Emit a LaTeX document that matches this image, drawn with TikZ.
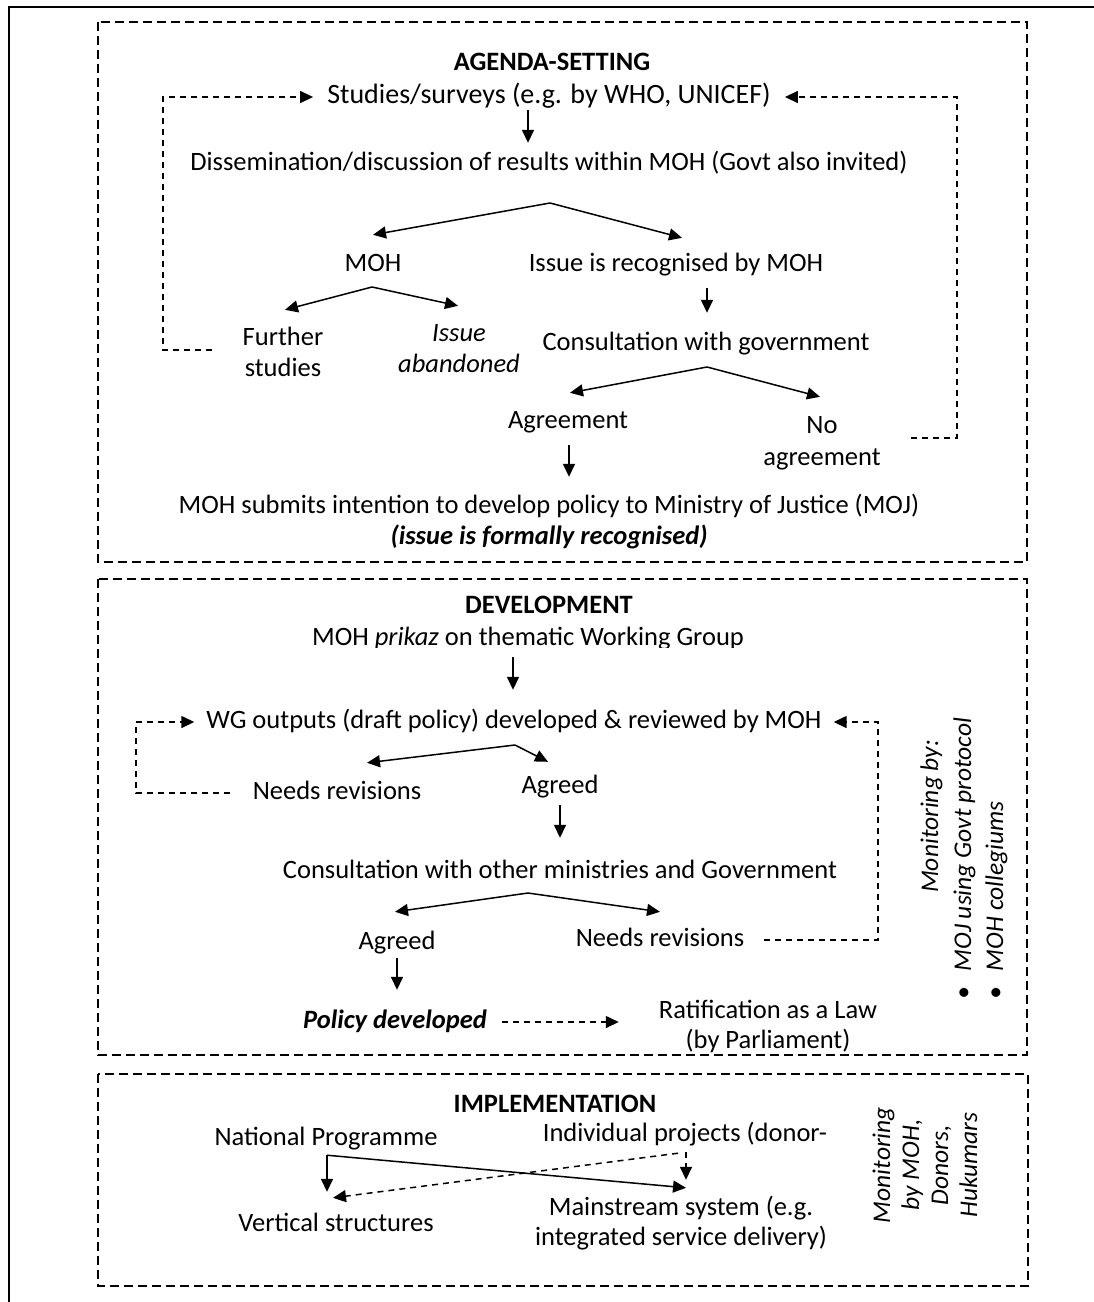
\documentclass[tikz,border=0pt]{standalone}
\usepackage{fontspec}
\setmainfont{Carlito}
\usetikzlibrary{arrows.meta}

\begin{document}
\begin{tikzpicture}[x=1pt,y=-1pt,
  txt/.style={inner sep=0pt, text height=17pt, text depth=5pt, anchor=base,
              font=\fontsize{26.5}{31}\selectfont},
  bigtxt/.style={txt, font=\fontsize{28}{33}\selectfont},
  vtxt/.style={inner sep=0pt, rotate=90, font=\fontsize{25.5}{31}\selectfont\itshape},
  stage/.style={line width=1.5pt, dash pattern=on 9pt off 5pt},
  arr/.style={line width=1.5pt, -{Triangle[length=13pt,width=12pt]}},
  darr/.style={line width=1.5pt, dash pattern=on 6pt off 5pt, -{Triangle[length=13pt,width=12pt]}},
]
\useasboundingbox (0,0) rectangle (1094,1302);

% outer frame
\draw[line width=2pt] (9,1302) -- (9,7) -- (1094,7);

% stage boxes
\draw[stage] (98,22) rectangle (1027,562);
\draw[stage] (98,579) rectangle (1027,1055);
\draw[stage] (98,1074) rectangle (1028,1286);

% ---------------- agenda-setting ----------------
\node[txt] (title1) at (552,70) {\bfseries AGENDA-SETTING};
\node[bigtxt] (studies) at (549,103) {Studies/surveys (e.g. by WHO, UNICEF)};
\node[txt] (dissem) at (549,170) {Dissemination/discussion of results within MOH (Govt also invited)};
\node[txt] (moh) at (373,271) {MOH};
\node[txt] (issrec) at (676,271) {Issue is recognised by MOH};
\node[txt] (further1) at (283,345) {Further};
\node[txt] (further2) at (283,376) {studies};
\node[txt] (aband1) at (459,341) {\itshape Issue};
\node[txt] (aband2) at (459,372) {\itshape abandoned};
\node[txt] (consult) at (706,350) {Consultation with government};
\node[txt] (agree) at (568,428) {Agreement};
\node[txt] (no1) at (822,433) {No};
\node[txt] (no2) at (822,465) {agreement};
\node[txt] (mohsub) at (549,513) {MOH submits intention to develop policy to Ministry of Justice (MOJ)};
\node[txt] (formal) at (549,544) {\bfseries\itshape (issue is formally recognised)};

\coordinate (s1) at (550,203);
\coordinate (s2) at (372,287);
\coordinate (s3) at (707,367);

\draw[arr] ([shift={(-21,2)}]studies.south) -- ([shift={(-21,-10)}]dissem.north);
\draw[arr] (s1) -- ([shift={(0,-19)}]moh.north);
\draw[arr] (s1) -- ([shift={(6,-16)}]issrec.north);
\draw[arr] (s2) -- ([shift={(2,-18)}]further1.north);
\draw[arr] (s2) -- ([shift={(-1,-18)}]aband1.north);
\draw[arr] ([shift={(31,12)}]issrec.south) -- ([shift={(1,-20)}]consult.north);
\draw[arr] (s3) -- ([shift={(2,-18)}]agree.north);
\draw[arr] (s3) -- ([shift={(-2,-19)}]no1.north);
\draw[arr] ([shift={(1,12)}]agree.south) -- ([shift={(20,-19)}]mohsub.north);

% feedback loops back to the studies
\draw[darr] ([shift={(-31,11)}]further1.west) -- (163,350) -- (163,0 |- studies.west)
  -- ([xshift=-14pt]studies.west);
\draw[darr] ([shift={(30,-21)}]no2.east) -- (957,438) -- (957,0 |- studies.east)
  -- ([xshift=14pt]studies.east);

% ---------------- development ----------------
\node[txt] (title2) at (549,613) {\bfseries DEVELOPMENT};
\begin{scope}
  \clip (98,615) rectangle (1027,647);
  \node[txt] (prikaz) at (528,645) {MOH \textit{prikaz} on thematic Working Group};
\end{scope}
\node[txt] (wg) at (514,728) {WG outputs (draft policy) developed \& reviewed by MOH};
\node[txt] (nr1) at (337,799) {Needs revisions};
\node[txt] (agreed1) at (560,793) {Agreed};
\node[txt] (consult2) at (560,878) {Consultation with other ministries and Government};
\node[txt] (agreed2) at (397,949) {Agreed};
\node[txt] (nr2) at (660,946) {Needs revisions};
\node[txt] (policy) at (395,1028) {\bfseries\itshape Policy developed};
\node[txt] (ratif1) at (768,1018) {Ratification as a Law};
\node[txt] (ratif2) at (768,1048) {(by Parliament)};

\node[vtxt, anchor=base west] (mon1) at (938,893) {Monitoring by:};
\node[vtxt, anchor=base west] (mon2) at (971,1000) {\textbullet\hspace{16pt}MOJ using Govt protocol};
\node[vtxt, anchor=base west] (mon3) at (1003,1000) {\textbullet\hspace{16pt}MOH collegiums};

\coordinate (s4) at (515,745);
\coordinate (s5) at (528,893);

\draw[arr] ([shift={(-15,7)}]prikaz.south) -- ([shift={(-1,-21)}]wg.north);
\draw[arr] (s4) -- ([shift={(30,-19)}]nr1.north);
\draw[arr] (s4) -- ([shift={(-12,-14)}]agreed1.north);
\draw[arr] ([shift={(0,7)}]agreed1.south) -- ([shift={(0,-23)}]consult2.north);
\draw[arr] (s5) -- ([shift={(-2,-20)}]agreed2.north);
\draw[arr] (s5) -- ([shift={(0,-17)}]nr2.north);
\draw[arr] ([shift={(0,4)}]agreed2.south) -- ([shift={(2,-21)}]policy.north);
\draw[darr] ([xshift=15pt]policy.east) -- ([shift={(-40,10)}]ratif1.west);

% revision loops back to the working group
\draw[darr] ([xshift=-23pt]nr1.west) -- (136,0 |- nr1.west) -- (136,0 |- wg.west)
  -- ([xshift=-12pt]wg.west);
\draw[darr] ([xshift=20pt]nr2.east) -- (878,0 |- nr2.east) -- (878,0 |- wg.east)
  -- ([xshift=12pt]wg.east);

% ---------------- implementation ----------------
\node[txt] (title3) at (555,1112) {\bfseries IMPLEMENTATION};
\node[txt] (np) at (326,1145) {National Programme};
\node[txt] (ip) at (685,1141) {Individual projects (donor-};
\node[txt] (vs) at (336,1231) {Vertical structures};
\node[txt] (ms1) at (681,1215) {Mainstream system (e.g.};
\node[txt] (ms2) at (681,1245) {integrated service delivery)};

\node[vtxt, anchor=base] (im1) at (890,1165) {Monitoring};
\node[vtxt, anchor=base] (im2) at (919,1165) {by MOH,};
\node[vtxt, anchor=base] (im3) at (948,1165) {Donors,};
\node[vtxt, anchor=base] (im4) at (977,1165) {Hukumars};

\draw[arr] ([shift={(1,5)}]np.south) -- ([shift={(-9,-22)}]vs.north);
\draw[arr] ([shift={(1,5)}]np.south) -- ([shift={(5,-10)}]ms1.north);
\draw[darr] ([shift={(1,6)}]ip.south) -- ([shift={(5,-18)}]ms1.north);
\draw[darr] ([shift={(-7,7)}]ip.south) -- ([shift={(-3,-16)}]vs.north);

\end{tikzpicture}
\end{document}
